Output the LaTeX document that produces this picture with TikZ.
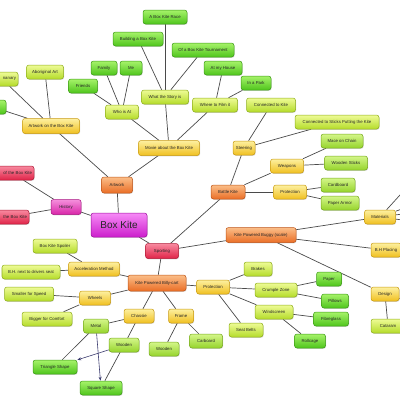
\documentclass[tikz,border=0pt]{standalone}
\usepackage{fontspec}
\setmainfont{Liberation Sans}
\usetikzlibrary{shadows,backgrounds,arrows.meta}
\definecolor{gnT}{HTML}{A6F36A}\definecolor{gnB}{HTML}{4FC51C}\definecolor{gnD}{HTML}{3C9A16}
\definecolor{liT}{HTML}{EEFB96}\definecolor{liB}{HTML}{B5DC2A}\definecolor{liD}{HTML}{8EAE1C}
\definecolor{chT}{HTML}{D4F68A}\definecolor{chB}{HTML}{96D42C}\definecolor{chD}{HTML}{76A81E}
\definecolor{yeT}{HTML}{FDF0A0}\definecolor{yeB}{HTML}{F0C020}\definecolor{yeD}{HTML}{C89A12}
\definecolor{orT}{HTML}{FBBE88}\definecolor{orB}{HTML}{EA6E26}\definecolor{orD}{HTML}{BE5418}
\definecolor{reT}{HTML}{F88AA0}\definecolor{reB}{HTML}{E02448}\definecolor{reD}{HTML}{B01A36}
\definecolor{maT}{HTML}{F68AF6}\definecolor{maB}{HTML}{CC1ECC}\definecolor{maD}{HTML}{9E109E}
\definecolor{piT}{HTML}{F590DC}\definecolor{piB}{HTML}{D824A8}\definecolor{piD}{HTML}{A81682}
\definecolor{edgec}{HTML}{4A4A4A}
\tikzset{
  box/.style={rounded corners=2.5pt, line width=0.5pt, font=\fontsize{4.3}{5}\selectfont,
    inner sep=1pt, minimum height=14pt, text=black!85, align=center,
    drop shadow={shadow xshift=0.6pt, shadow yshift=-0.8pt, opacity=0.3}},
  gn/.style={box, top color=gnT, bottom color=gnB, draw=gnD},
  li/.style={box, top color=liT, bottom color=liB, draw=liD},
  ch/.style={box, top color=chT, bottom color=chB, draw=chD},
  ye/.style={box, top color=yeT, bottom color=yeB, draw=yeD},
  orr/.style={box, top color=orT, bottom color=orB, draw=orD},
  re/.style={box, top color=reT, bottom color=reB, draw=reD},
  ma/.style={box, top color=maT, bottom color=maB, draw=maD},
  pi/.style={box, top color=piT, bottom color=piB, draw=piD},
  w/.style={minimum width=#1pt},
  edgebox/.style={text width=#1pt, align=right, inner xsep=2pt},
  link/.style={draw=edgec, line width=0.7pt},
  arr/.style={draw=edgec!80!blue, line width=0.6pt, -{Stealth[length=4pt,width=3pt]}}
}
\begin{document}
\begin{tikzpicture}[x=1pt,y=-1pt]
\useasboundingbox (0,0) rectangle (400,400);
\clip (0,0) rectangle (400,400);
% top cluster
\node[gn,w=44] (race) at (165,17) {A Box Kite Race};
\node[gn,w=50] (build) at (138,39) {Building a Box Kite};
\node[gn,w=62] (tourn) at (203,50) {Of a Box Kite Tournament};
\node[gn,w=26] (family) at (104,68) {Family};
\node[gn,w=22] (me) at (131,68) {Me};
\node[gn,w=29] (friends) at (83,86) {Friends};
\node[li,w=33] (who) at (122,112) {Who is At};
\node[li,w=47] (story) at (165,97) {What the Story is};
\node[gn,w=38] (house) at (223,68) {At my House};
\node[gn,w=30] (park) at (256,83) {In a Park};
\node[li,w=45] (film) at (215,105) {Where to Film it};
\node[li,w=49] (conkite) at (271,105) {Connected to Kite};
\node[li,w=84] (consticks) at (337,122) {Connected to Sticks Putting the Kite};
\node[ye,w=61,minimum height=15pt] (movie) at (169,148) {Movie about the Box Kite};
\node[ye,w=22] (steer) at (244,148) {Steering};
\node[ch,w=42] (mace) at (342,141) {Mace on Chain};
\node[ch,w=43] (wsticks) at (346,163) {Wooden Sticks};
\node[ye,w=33] (weapons) at (287,166) {Weapons};
\node[orr,w=34] (battle) at (228,192) {Battle Kite};
\node[ye,w=33] (prot1) at (290,192) {Protection};
\node[ch,w=34] (cardb) at (338,185) {Cardboard};
\node[ch,w=38] (paperarm) at (340,203) {Paper Armor};
\node[ye,w=31] (materials) at (380,217) {Materials};
\node[ye,w=30] (bhplace) at (386,250) {B.H Placing};
\node[ye,w=28] (design) at (385,294) {Design};
\node[li,w=34] (cataram) at (388,326) {Cataram};
\node[orr,w=70,minimum height=15pt] (buggy) at (261,235) {Kite Powered Buggy (scale)};
% centre and left
\node[ma,w=56,minimum height=24pt,font=\fontsize{10}{12}\selectfont] (boxkite) at (119,225) {Box Kite};
\node[orr,w=31,minimum height=16pt] (artwork) at (117,185) {Artwork};
\node[pi,w=30,minimum height=15pt] (history) at (66,207) {History};
\node[re,edgebox=40] (origin) at (12,173) {of the Box Kite};
\node[re,edgebox=36] (hist2) at (9,217) {the Box Kite};
\node[ye,w=57,minimum height=15pt] (artonbox) at (51,126) {Artwork on the Box Kite};
\node[li,w=37] (aborig) at (45,72) {Aboriginal Art};
\node[li,edgebox=28] (nanary) at (2,79) {nanary};
\node[gn,w=26] (leftbox) at (-7,107) {};
% bottom
\node[li,w=44] (spoiler) at (55,246) {Box Kite Spoiler};
\node[ye,w=51] (accel) at (94,269) {Acceleration Method};
\node[li,w=58] (bhnext) at (31,272) {B.H. next to drivers seat};
\node[orr,w=58,minimum height=16pt] (billy) at (157,283) {Kite Powered Billy-cart};
\node[re,w=33,minimum height=15pt] (sporting) at (162,251) {Sporting};
\node[ye,w=31] (wheels) at (95,298) {Wheels};
\node[li,w=49] (smaller) at (29,294) {Smaller for Speed};
\node[li,w=50] (bigger) at (47,319) {Bigger for Comfort};
\node[ye,w=30] (chassie) at (139,316) {Chassie};
\node[ch,w=25] (metal) at (96,326) {Metal};
\node[ch,w=30] (wooden1) at (124,345) {Wooden};
\node[gn,w=44] (triangle) at (55,367) {Triangle Shape};
\node[gn,w=42] (square) at (101,388) {Square Shape};
\node[ye,w=25] (frame) at (181,316) {Frame};
\node[ch,w=30] (wooden2) at (164,349) {Wooden};
\node[ch,w=33] (carboard) at (206,341) {Carboard};
\node[ye,w=33] (prot2) at (213,287) {Protection};
\node[li,w=28] (brakes) at (258,269) {Brakes};
\node[li,w=42] (crumple) at (276,290) {Crumple Zone};
\node[li,w=38] (windscreen) at (274,312) {Windscreen};
\node[li,w=34] (seatbelts) at (246,330) {Seat Belts};
\node[gn,w=25] (paper) at (329,279) {Paper};
\node[gn,w=27] (pillows) at (335,301) {Pillows};
\node[gn,w=35] (fibre) at (331,319) {Fibreglass};
\node[gn,w=31] (rollcage) at (310,341) {Rollcage};
\coordinate (m1) at (410,184);
\coordinate (m2) at (410,206);
\coordinate (m3) at (410,213);
\coordinate (m4) at (410,221);
\coordinate (d1) at (410,302);
\begin{pgfonlayer}{background}
\draw[link] (boxkite) -- (artwork);
\draw[link] (boxkite) -- (history);
\draw[link] (boxkite) -- (sporting);
\draw[link] (artwork) -- (artonbox);
\draw[link] (artwork) -- (movie);
\draw[link] (artonbox) -- (aborig);
\draw[link] (artonbox) -- (nanary);
\draw[link] (artonbox) -- (leftbox);
\draw[link] (movie) -- (who);
\draw[link] (movie) -- (story);
\draw[link] (movie) -- (film);
\draw[link] (who) -- (family);
\draw[link] (who) -- (me);
\draw[link] (who) -- (friends);
\draw[link] (story) -- (race);
\draw[link] (story) -- (build);
\draw[link] (story) -- (tourn);
\draw[link] (film) -- (house);
\draw[link] (film) -- (park);
\draw[link] (history) -- (origin);
\draw[link] (history) -- (hist2);
\draw[link] (sporting) -- (battle);
\draw[link] (sporting) -- (buggy);
\draw[link] (sporting) -- (billy);
\draw[link] (battle) -- (steer);
\draw[link] (battle) -- (weapons);
\draw[link] (battle) -- (prot1);
\draw[link] (steer) -- (conkite);
\draw[link] (steer) -- (consticks);
\draw[link] (weapons) -- (mace);
\draw[link] (weapons) -- (wsticks);
\draw[link] (prot1) -- (cardb);
\draw[link] (prot1) -- (paperarm);
\draw[link] (buggy) -- (materials);
\draw[link] (buggy) -- (bhplace);
\draw[link] (buggy) -- (design);
\draw[link] (materials) -- (m1);
\draw[link] (materials) -- (m2);
\draw[link] (materials) -- (m3);
\draw[link] (materials) -- (m4);
\draw[link] (design) -- (d1);
\draw[link] (design) -- (cataram);
\draw[link] (billy) -- (accel);
\draw[link] (billy) -- (wheels);
\draw[link] (billy) -- (chassie);
\draw[link] (billy) -- (frame);
\draw[link] (billy) -- (prot2);
\draw[link] (accel) -- (spoiler);
\draw[link] (accel) -- (bhnext);
\draw[link] (wheels) -- (smaller);
\draw[link] (wheels) -- (bigger);
\draw[link] (chassie) -- (metal);
\draw[link] (chassie) -- (wooden1);
\draw[link] (metal) -- (triangle);
\draw[arr] (metal) -- (square);
\draw[arr] (wooden1) -- (triangle);
\draw[link] (wooden1) -- (square);
\draw[link] (frame) -- (wooden2);
\draw[link] (frame) -- (carboard);
\draw[link] (prot2) -- (brakes);
\draw[link] (prot2) -- (crumple);
\draw[link] (prot2) -- (windscreen);
\draw[link] (prot2) -- (seatbelts);
\draw[link] (crumple) -- (paper);
\draw[link] (crumple) -- (pillows);
\draw[link] (windscreen) -- (fibre);
\draw[link] (windscreen) -- (rollcage);
\end{pgfonlayer}
\end{tikzpicture}
\end{document}
